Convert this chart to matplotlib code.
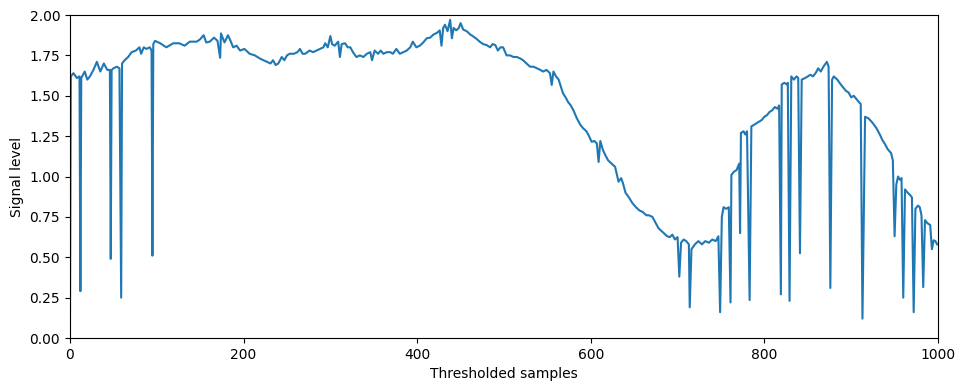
import numpy as np
import matplotlib.pyplot as plt

# sample index and signal level
samples = [0, 1, 4, 8, 11, 12, 13, 17, 20, 23, 27, 31, 35, 39, 43, 46, 47, 48, 50, 54,
           57, 59, 60, 63, 67, 71, 76, 80, 82, 85, 88, 92, 94, 95, 96, 98, 104, 111, 119, 126,
           132, 138, 146, 150, 154, 157, 161, 166, 170, 173, 174, 178, 182, 185, 188, 192, 196, 201, 207, 213,
           219, 223, 227, 231, 234, 237, 240, 244, 247, 250, 253, 258, 262, 265, 268, 271, 276, 280, 284, 288,
           292, 294, 297, 300, 302, 305, 309, 311, 313, 317, 320, 323, 326, 330, 334, 338, 342, 346, 348, 351,
           355, 358, 361, 365, 369, 372, 376, 380, 384, 388, 392, 395, 399, 403, 407, 411, 415, 419, 423, 426,
           428, 430, 432, 435, 438, 440, 442, 445, 448, 450, 453, 457, 461, 465, 469, 472, 476, 480, 484, 487,
           490, 493, 496, 499, 503, 507, 511, 515, 519, 522, 526, 530, 534, 538, 542, 545, 549, 553, 555, 557,
           560, 563, 566, 568, 571, 574, 577, 580, 584, 588, 591, 595, 598, 601, 604, 607, 609, 611, 614, 617,
           620, 624, 628, 632, 635, 637, 640, 644, 648, 652, 656, 660, 664, 667, 671, 675, 678, 680, 684, 688,
           691, 694, 697, 700, 702, 704, 707, 710, 713, 714, 716, 720, 724, 728, 732, 736, 740, 744, 747, 749,
           751, 753, 756, 759, 761, 762, 765, 768, 771, 772, 773, 776, 778, 780, 783, 785, 788, 791, 794, 797,
           800, 803, 806, 809, 812, 815, 817, 819, 820, 823, 826, 827, 829, 831, 834, 837, 839, 841, 843, 847,
           850, 853, 856, 859, 862, 865, 868, 872, 874, 876, 878, 880, 884, 888, 891, 894, 897, 900, 903, 906,
           909, 911, 913, 916, 920, 925, 929, 933, 936, 939, 942, 946, 948, 950, 952, 954, 956, 958, 960, 962,
           965, 968, 970, 972, 974, 977, 979, 981, 983, 985, 988, 991, 993, 995, 997, 999]
levels = [0.10, 1.62, 1.64, 1.61, 1.62, 0.29, 1.61, 1.65, 1.60, 1.62, 1.66, 1.71, 1.65, 1.70, 1.66, 1.66, 0.49, 1.66, 1.67, 1.68,
          1.67, 0.25, 1.70, 1.72, 1.74, 1.77, 1.78, 1.80, 1.76, 1.80, 1.79, 1.80, 1.78, 0.51, 1.82, 1.84, 1.825, 1.80, 1.825, 1.825,
          1.81, 1.835, 1.835, 1.85, 1.875, 1.83, 1.835, 1.86, 1.84, 1.735, 1.886, 1.83, 1.875, 1.84, 1.80, 1.81, 1.78, 1.79, 1.76, 1.75,
          1.73, 1.72, 1.71, 1.70, 1.72, 1.69, 1.70, 1.74, 1.72, 1.75, 1.76, 1.76, 1.77, 1.79, 1.76, 1.76, 1.78, 1.77, 1.78, 1.79,
          1.80, 1.825, 1.80, 1.87, 1.82, 1.81, 1.835, 1.74, 1.82, 1.825, 1.80, 1.80, 1.77, 1.74, 1.75, 1.74, 1.76, 1.77, 1.72, 1.78,
          1.76, 1.78, 1.76, 1.77, 1.77, 1.76, 1.79, 1.76, 1.77, 1.78, 1.80, 1.835, 1.80, 1.81, 1.83, 1.856, 1.86, 1.88, 1.89, 1.905,
          1.81, 1.92, 1.94, 1.90, 1.97, 1.856, 1.92, 1.905, 1.92, 1.95, 1.91, 1.90, 1.88, 1.866, 1.85, 1.835, 1.82, 1.814, 1.80, 1.82,
          1.814, 1.78, 1.80, 1.80, 1.75, 1.75, 1.74, 1.74, 1.73, 1.72, 1.70, 1.68, 1.68, 1.67, 1.66, 1.65, 1.66, 1.64, 1.567, 1.65,
          1.62, 1.60, 1.55, 1.515, 1.49, 1.46, 1.44, 1.41, 1.36, 1.32, 1.30, 1.28, 1.25, 1.215, 1.22, 1.205, 1.09, 1.22, 1.164, 1.13,
          1.10, 1.08, 1.06, 0.968, 0.99, 0.96, 0.90, 0.87, 0.835, 0.81, 0.79, 0.78, 0.76, 0.76, 0.75, 0.71, 0.68, 0.67, 0.65, 0.63,
          0.625, 0.64, 0.61, 0.625, 0.38, 0.59, 0.61, 0.60, 0.58, 0.19, 0.55, 0.58, 0.60, 0.58, 0.60, 0.59, 0.61, 0.60, 0.63, 0.16,
          0.75, 0.81, 0.80, 0.81, 0.22, 1.01, 1.03, 1.04, 1.08, 0.65, 1.27, 1.28, 1.26, 1.28, 0.235, 1.31, 1.32, 1.33, 1.34, 1.35,
          1.37, 1.38, 1.40, 1.41, 1.43, 1.42, 1.44, 0.27, 1.57, 1.58, 1.57, 1.58, 0.23, 1.62, 1.60, 1.62, 1.61, 0.525, 1.60, 1.61,
          1.62, 1.63, 1.62, 1.64, 1.67, 1.65, 1.68, 1.71, 1.68, 0.31, 1.60, 1.62, 1.60, 1.57, 1.55, 1.53, 1.52, 1.49, 1.50, 1.48,
          1.46, 1.45, 0.12, 1.37, 1.36, 1.33, 1.30, 1.26, 1.225, 1.20, 1.17, 1.145, 1.10, 0.63, 0.95, 1.00, 0.98, 0.99, 0.25, 0.92,
          0.90, 0.885, 0.87, 0.16, 0.80, 0.82, 0.81, 0.76, 0.315, 0.73, 0.71, 0.70, 0.55, 0.605, 0.60, 0.58]

fig = plt.figure(figsize=(9.65, 3.91), dpi=100)
ax = fig.add_axes([0.0725, 0.1355, 0.8995, 0.8261])

ax.plot(samples, levels)

ax.set_xlim(0, 1000)
ax.set_ylim(0, 2)
ax.set_xlabel("Thresholded samples")
ax.set_ylabel("Signal level")

fig.savefig("out.png", dpi=100)
